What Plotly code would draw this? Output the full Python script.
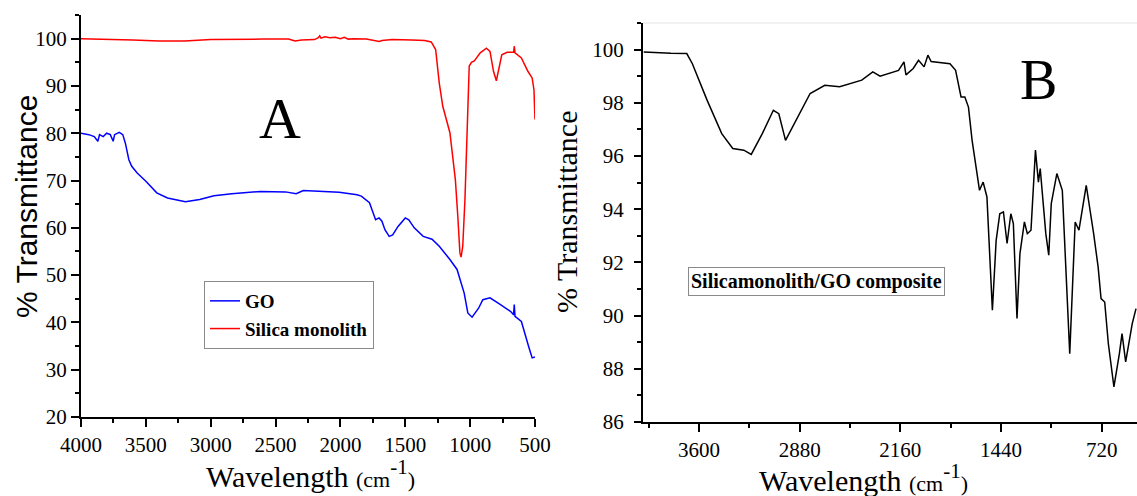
import plotly.graph_objects as go

# ---------------- data ----------------
go_wn = [4000, 3939, 3898, 3870, 3857, 3829, 3802, 3774, 3752, 3741, 3705, 3678, 3658, 3631, 3609,
         3587, 3567, 3498, 3416, 3333, 3195, 3085, 2975, 2837, 2616, 2424, 2341, 2286, 2148, 2010,
         1872, 1839, 1776, 1749, 1729, 1702, 1680, 1657, 1624, 1597, 1556, 1500, 1473, 1431, 1362,
         1294, 1238, 1156, 1101, 1046, 1018, 985, 935, 902, 847, 769, 687, 665, 660, 654, 605, 549,
         522, 500]
go_t = [80.0, 79.7, 79.3, 78.3, 79.7, 79.3, 80.0, 79.7, 78.3, 79.7, 80.2, 79.7, 77.9, 74.4, 73.0,
        72.3, 71.6, 69.8, 67.4, 66.3, 65.5, 66.0, 66.8, 67.2, 67.7, 67.6, 67.2, 67.9, 67.7, 67.5,
        67.0, 66.7, 65.3, 63.1, 61.7, 62.1, 61.4, 59.6, 58.2, 58.5, 60.3, 62.1, 61.7, 60.0, 58.2,
        57.6, 56.1, 53.3, 51.2, 46.2, 42.0, 41.1, 43.0, 44.8, 45.2, 43.8, 42.3, 41.6, 43.8, 41.3,
        40.2, 34.9, 32.5, 32.7]

silica_wn = [4000, 3800, 3600, 3400, 3200, 3000, 2800, 2600, 2400, 2350, 2300, 2200, 2170, 2160,
             2150, 2120, 2080, 2040, 2000, 1970, 1940, 1900, 1800, 1720, 1700, 1680, 1600, 1450,
             1350, 1300, 1280, 1266, 1238, 1211, 1156, 1114, 1095, 1079, 1070, 1057, 1040, 1024,
             1007, 990, 968, 922, 875, 847, 820, 798, 776, 756, 715, 665, 660, 654, 605, 555, 522,
             508, 500]
silica_t = [100.0, 99.9, 99.7, 99.5, 99.5, 99.8, 99.9, 99.9, 99.9, 99.5, 99.7, 99.8, 100.2, 100.6,
            100.1, 100.4, 100.2, 100.3, 100.0, 100.3, 99.9, 100.0, 99.9, 99.6, 99.4, 99.6, 99.8, 99.7,
            99.6, 99.3, 98.5, 97.7, 90.6, 85.7, 80.1, 70.2, 62.4, 54.7, 53.8, 56.1, 66.0, 80.1,
            94.2, 95.0, 95.3, 97.0, 98.0, 97.3, 93.1, 91.1, 94.2, 96.6, 97.1, 97.1, 98.4, 97.0,
            95.9, 93.1, 91.7, 89.2, 82.9]

comp_wn = [3995, 3900, 3800, 3687, 3647, 3542, 3437, 3358, 3279, 3226, 3147, 3068, 3029, 2981,
           2937, 2805, 2700, 2594, 2436, 2357, 2305, 2173, 2134, 2120, 2068, 2030, 1990, 1963,
           1940, 1805, 1765, 1726, 1699, 1673, 1647, 1620, 1594, 1568, 1541, 1502, 1475, 1449,
           1423, 1397, 1370, 1352, 1326, 1305, 1273, 1252, 1226, 1194, 1173, 1160, 1120, 1099,
           1081, 1041, 1002, 949, 910, 883, 831, 778, 746, 725, 699, 673, 633, 594, 575, 549, 528,
           502, 475]
comp_t = [99.91, 99.88, 99.86, 99.85, 99.47, 98.10, 96.84, 96.28, 96.22, 96.06, 96.84, 97.72,
          97.59, 96.59, 97.03, 98.35, 98.66, 98.60, 98.85, 99.16, 99.00, 99.22, 99.54, 99.05,
          99.29, 99.60, 99.35, 99.79, 99.55, 99.47, 99.22, 98.22, 98.22, 97.84, 96.59, 95.59,
          94.71, 95.02, 94.46, 90.20, 92.83, 93.83, 93.90, 92.71, 93.83, 93.46, 89.89, 92.33,
          93.52, 93.08, 93.21, 96.22, 95.02, 95.53, 93.08, 92.27, 94.21, 95.34, 94.71, 88.57,
          93.52, 93.21, 94.90, 93.08, 91.83, 90.64, 90.51, 88.95, 87.32, 88.57, 89.32, 88.26,
          88.95, 89.70, 90.26]

left_xticks = [4000, 3500, 3000, 2500, 2000, 1500, 1000, 500]
left_yticks = [20, 30, 40, 50, 60, 70, 80, 90, 100]
right_xticks = [3600, 2880, 2160, 1440, 720]
right_yticks = [86, 88, 90, 92, 94, 96, 98, 100]

# ---------------- layout helpers ----------------
W, H = 1137, 496
def px(p):
    return p / W
def py(p):
    return 1 - p / H

SERIF = "Liberation Serif"
SANS = "Liberation Sans"

fig = go.Figure()
fig.add_trace(go.Scatter(x=go_wn, y=go_t, mode="lines", name="GO",
                         line=dict(color="#0000FF", width=1.5), xaxis="x", yaxis="y"))
fig.add_trace(go.Scatter(x=silica_wn, y=silica_t, mode="lines", name="Silica monolith",
                         line=dict(color="#FF0000", width=1.5), xaxis="x", yaxis="y"))
fig.add_trace(go.Scatter(x=comp_wn, y=comp_t, mode="lines", name="Silicamonolith/GO composite",
                         line=dict(color="#000000", width=1.5), xaxis="x2", yaxis="y2",
                         showlegend=False))

axis_common = dict(showline=True, linecolor="black", linewidth=2, ticks="outside",
                   tickcolor="black", tickwidth=2, showgrid=False, zeroline=False,
                   automargin=False,
                   tickfont=dict(family=SERIF, size=21, color="black"))

fig.update_layout(
    width=W, height=H,
    margin=dict(l=0, r=0, t=0, b=0, autoexpand=False),
    paper_bgcolor="white", plot_bgcolor="white",
    xaxis=dict(domain=[px(81), px(535)], range=[4000, 500], anchor="y",
               tickmode="array", tickvals=left_xticks, ticklen=8,
               minor=dict(tickmode="linear", tick0=0, dtick=250, ticklen=4, tickwidth=1.5,
                          tickcolor="black", ticks="outside"),
               **axis_common),
    yaxis=dict(domain=[py(417), py(15)], range=[20, 105], anchor="x",
               tickmode="array", tickvals=left_yticks, ticklen=8,
               minor=dict(tickmode="linear", tick0=0, dtick=5, ticklen=4, tickwidth=1.5,
                          tickcolor="black", ticks="outside"),
               **axis_common),
    xaxis2=dict(domain=[px(643), 1.0], range=[4000, 468], anchor="y2",
                tickmode="array", tickvals=right_xticks, ticklen=8,
                minor=dict(tickmode="linear", tick0=0, dtick=360, ticklen=4, tickwidth=1.5,
                           tickcolor="black", ticks="outside"),
                **axis_common),
    yaxis2=dict(domain=[py(422), py(23)], range=[86, 101], anchor="x2",
                tickmode="array", tickvals=right_yticks, ticklen=7, ticklabelstandoff=6,
                minor=dict(tickmode="linear", tick0=0, dtick=1, ticklen=4, tickwidth=1.5,
                           tickcolor="black", ticks="outside"),
                **axis_common),
    legend=dict(x=px(204), y=py(281), xanchor="left", yanchor="top",
                bgcolor="white", bordercolor="#8a8a8a", borderwidth=1,
                font=dict(family=SERIF, size=19, color="black", weight="bold"),
                tracegroupgap=0, itemwidth=30),
    showlegend=True,
)

fig.add_shape(type="line", xref="paper", yref="paper", x0=px(643), x1=1.0, y0=py(23), y1=py(23),
              line=dict(color="#e3e3e3", width=1))

anns = [
    dict(text="% Transmittance", x=px(26), y=py(207), textangle=-90,
         font=dict(family=SANS, size=30, color="black")),
    dict(text="% Transmittance", x=px(566), y=py(212), textangle=-90,
         font=dict(family=SERIF, size=30, color="black")),
    dict(text="Wavelength <span style='font-size:22px'>(cm</span><sup>-1</sup><span style='font-size:22px'>)</span>",
         x=px(310), y=py(474), font=dict(family=SERIF, size=30, color="black")),
    dict(text="Wavelength <span style='font-size:22px'>(cm</span><sup>-1</sup><span style='font-size:22px'>)</span>",
         x=px(864), y=py(478), font=dict(family=SERIF, size=30, color="black")),
    dict(text="A", x=px(280), y=py(118), font=dict(family=SERIF, size=58, color="black")),
    dict(text="B", x=px(1038), y=py(80), font=dict(family=SERIF, size=56, color="black")),
    dict(text="<b>Silicamonolith/GO composite</b>", x=px(816), y=py(281),
         font=dict(family=SERIF, size=20, color="black"),
         bordercolor="#8a8a8a", borderwidth=1, borderpad=2, bgcolor="white"),
]
for a in anns:
    a.update(xref="paper", yref="paper", showarrow=False, xanchor="center", yanchor="middle")
    fig.add_annotation(**a)

fig.write_html("out.html", config={"displayModeBar": False},
               post_script="document.body.style.margin='0';document.body.style.padding='0';"
                           "document.body.style.overflow='hidden';")
